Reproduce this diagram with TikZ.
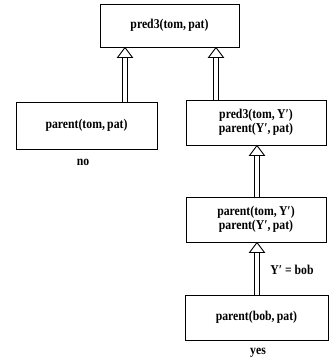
\documentclass[tikz,border=0pt]{standalone}
\usepackage{fontspec}
\setmainfont{Liberation Serif}
\newfontfamily\condfont[FakeStretch=0.87]{Liberation Serif}
\usetikzlibrary{calc}
\tikzset{
  box/.style={draw, line width=1pt, minimum width=#1, inner sep=2pt, font=\condfont\bfseries\fontsize{13.5}{14}\selectfont, align=center},
  lbl/.style={font=\condfont\bfseries\fontsize{13.5}{14}\selectfont, inner sep=1pt},
  shaft/.style={draw, line width=0.9pt, double, double distance=4.6pt},
  head/.style={draw, line width=0.9pt, fill=white, line join=miter}
}
\newcommand{\hollowarrow}[3]{% #1 lower node, #2 upper node, #3 x coordinate name
  \draw[shaft] (#1.north -| #3) -- ($(#2.south -| #3)+(0,10)$);
  \draw[head] (#2.south -| #3) -- ++(-7.5,10) -- ++(15,0) -- cycle;
}
\begin{document}
\begin{tikzpicture}[x=1pt,y=-1pt]
\useasboundingbox (0,0) rectangle (336,362);
\node[box=139pt, minimum height=43pt] (top) at (169.5,25.5) {pred3(tom,\,pat)};
\node[box=141pt, minimum height=47pt] (left) at (86.5,125.5) {parent(tom,\,pat)};
\node[box=140pt, minimum height=45pt] (mid) at (256,122.5) {pred3(tom,\,Y′)\\parent(Y′,\,pat)};
\node[box=140pt, minimum height=45pt] (third) at (256,219.5) {parent(tom,\,Y′)\\parent(Y′,\,pat)};
\node[box=143pt, minimum height=45pt] (bot) at (256.5,317.5) {parent(bob,\,pat)};
\node[lbl] (no) at (83,162) {no};
\node[lbl] (yes) at (258,353) {yes};
\node[lbl] (eq) at (292,270) {Y′ = bob};
\coordinate (xa) at (125,0);
\coordinate (xb) at (216,0);
\coordinate (xc) at (257,0);
\hollowarrow{left}{top}{xa}
\hollowarrow{mid}{top}{xb}
\hollowarrow{third}{mid}{xc}
\hollowarrow{bot}{third}{xc}
\end{tikzpicture}
\end{document}
